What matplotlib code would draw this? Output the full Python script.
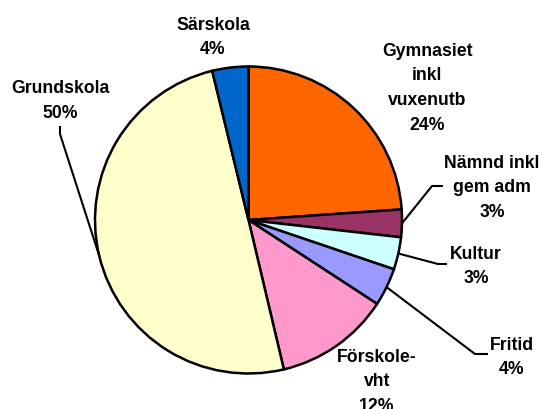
import numpy as np
import matplotlib
matplotlib.use("Agg")
import matplotlib.pyplot as plt

# ---- data ----
categories = ["Gymnasiet\ninkl\nvuxenutb", "Nämnd inkl\ngem adm", "Kultur", "Fritid",
              "Förskole-\nvht", "Grundskola", "Särskola"]
values = [23.9, 2.9, 3.4, 4.0, 12.1, 49.9, 3.8]
colors = ["#FF6600", "#993366", "#CCFFFF", "#9999FF", "#FF99CC", "#FFFFCC", "#0066CC"]

# ---- layout (pixel coordinates, y from top) ----
W, H = 542, 410
cx, cy, R = 248.5, 221.0, 153.5
label_pos = [(427, 56), (492, 168), (476, 259), (512, 350), (377, 362), (60, 93), (213, 30)]
line_step = 24.5
# leader elbows: (elbow, end) or None
leaders = [None, ((432, 187), (443, 187)), ((438, 265), (447, 265)),
           ((475, 355), (488, 355)), None, ((60, 135), (60, 127)), None]

plt.rcParams['font.family'] = ['Liberation Sans', 'DejaVu Sans']
fig = plt.figure(figsize=(W / 100, H / 100), dpi=100)
ax = fig.add_axes([0, 0, 1, 1])

wedges, _ = ax.pie(values, colors=colors, startangle=90, counterclock=False,
                   center=(cx, H - cy), radius=R,
                   wedgeprops=dict(edgecolor="black", linewidth=1.8))
ax.set_xlim(0, W)
ax.set_ylim(0, H)
ax.set_aspect('equal')
ax.axis('off')

total = sum(values)
for i, (cat, v) in enumerate(zip(categories, values)):
    lines = cat.split("\n") + [f"{round(v / total * 100):d}%"]
    x0, y0 = label_pos[i]
    for j, ln in enumerate(lines):
        ax.text(x0, H - (y0 + j * line_step), ln, ha='center', va='baseline',
                fontsize=12.7, fontweight='bold', color='black')
    if leaders[i] is not None:
        w = wedges[i]
        mid = np.deg2rad((w.theta1 + w.theta2) / 2)
        sx = cx + R * np.cos(mid)
        sy = H - cy + R * np.sin(mid)
        (ex, ey), (fx, fy) = leaders[i]
        ax.plot([sx, ex, fx], [sy, H - ey, H - fy], color='black', lw=1.5,
                solid_capstyle='butt', solid_joinstyle='miter')

fig.savefig("out.png", dpi=100)
